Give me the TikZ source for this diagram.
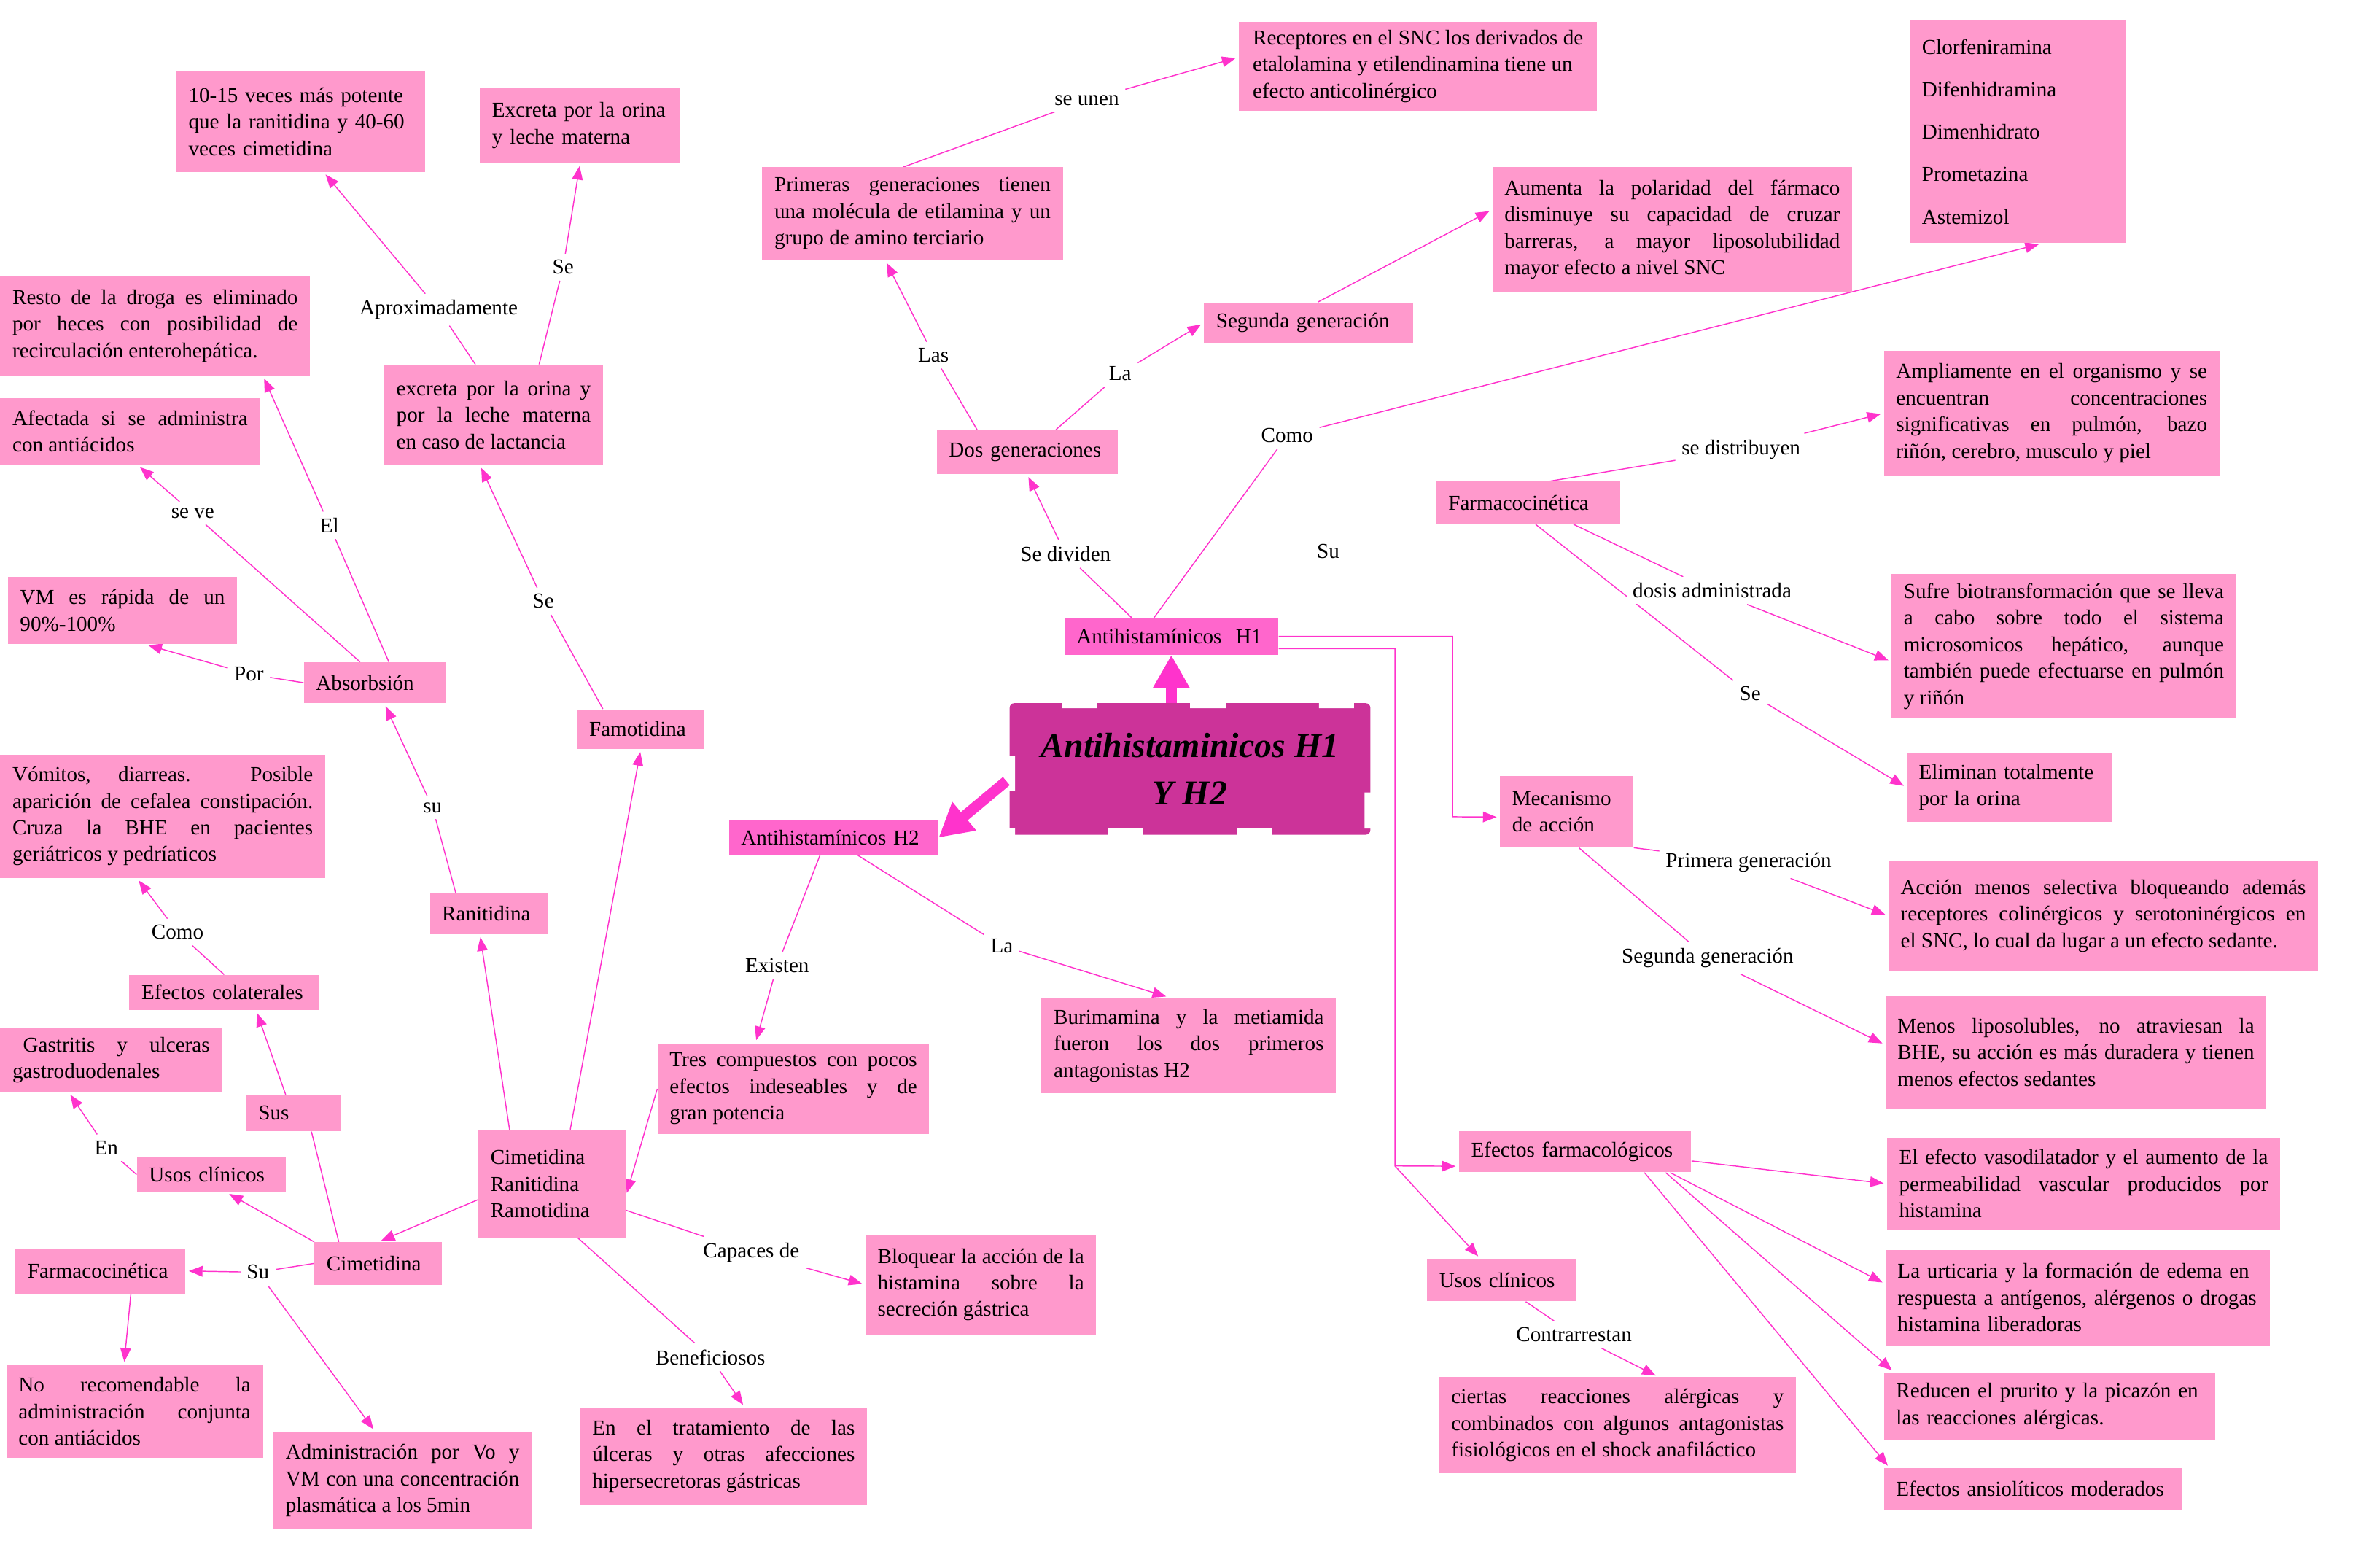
\documentclass[tikz,border=0pt]{standalone}
\usepackage{fontspec}
\setmainfont{Liberation Serif}
\usetikzlibrary{arrows.meta}
\pgfdeclarelayer{background}
\pgfsetlayers{background,main}

\begin{document}
\begin{tikzpicture}[x=1pt,y=-1pt,
  box/.style={fill=boxColor,anchor=north west,inner xsep=8pt,inner ysep=3pt,
    align=left,font=\fontsize{14}{17.5}\selectfont},
  jbox/.style={box,align=justify},
  headbox/.style={box,fill=headColor},
  lbl/.style={fill=white,inner sep=4pt,font=\fontsize{14}{17}\selectfont},
  cline/.style={draw=lineColor,line width=0.7pt},
  carrow/.style={cline,-{Triangle[length=9pt,width=7pt]},shorten >=2pt},
  bigarrow/.style={draw=lineColor,line width=7pt,-{Triangle[length=22pt,width=23pt]}}]
\definecolor{boxColor}{RGB}{255,153,204}
\definecolor{headColor}{RGB}{255,102,204}
\definecolor{mainColor}{RGB}{204,51,153}
\definecolor{lineColor}{RGB}{255,51,204}
\path[use as bounding box] (0,0) rectangle (1568,1015);

% centre
\node[fill=mainColor,rounded corners=3pt,anchor=north west,minimum width=237.6pt,minimum height=86.6pt,
  align=center,font=\fontsize{23}{31}\selectfont\bfseries\itshape] (central) at (665,463) {Antihistaminicos H1\\Y H2};
\fill[white] (699.5,461) rectangle (722.5,466.5) (784,461) rectangle (807.5,466.5) (869,461) rectangle (892,466.5)
  (663,545.8) rectangle (668.7,551) (730,545.8) rectangle (753,551) (815,545.8) rectangle (838,551)
  (663,498) rectangle (668.7,520.7) (899,522) rectangle (904,545.8);

\node[headbox,text width=125pt,minimum height=24pt] (antiHuno) at (701,407) {Antihistamínicos~~H1};
\node[headbox,text width=122pt,minimum height=23pt] (antiHdos) at (480,540) {Antihistamínicos H2};

% H2 side
\node[box,text width=148pt,minimum height=66pt] (potente) at (116,47) {10-15 veces más potente\\que la ranitidina y 40-60\\veces cimetidina};
\node[box,text width=116pt,minimum height=49pt] (excretaLeche) at (316,58) {Excreta por la orina\\y leche materna};
\node[jbox,text width=188pt,minimum height=65pt] (restoDroga) at (0,182) {Resto de la droga es eliminado\linebreak por heces con posibilidad de\linebreak recirculación enterohepática.};
\node[jbox,text width=155pt,minimum height=44pt] (afectada) at (0,262) {Afectada si se administra\linebreak con antiácidos};
\node[jbox,text width=128pt,minimum height=66pt] (excretaLact) at (253,240) {excreta por la orina y\linebreak por la leche materna\linebreak en caso de lactancia};
\node[jbox,text width=135pt,minimum height=44pt] (vmRapida) at (5,380) {VM es rápida de un\linebreak 90\%-100\%};
\node[box,text width=78pt,minimum height=27pt] (absorcion) at (200,436) {Absorbsión};
\node[box,text width=68pt,minimum height=26pt] (famotidina) at (380,467) {Famotidina};
\node[jbox,text width=198pt,minimum height=81pt] (vomitos) at (0,497) {Vómitos, diarreas. Posible\linebreak aparición de cefalea constipación.\linebreak Cruza la BHE en pacientes\linebreak geriátricos y pedríaticos};
\node[box,text width=62pt,minimum height=27pt] (ranitidina) at (283,588) {Ranitidina};
\node[box,text width=109pt,minimum height=23pt] (efColat) at (85,642) {Efectos colaterales};
\node[jbox,text width=130pt,minimum height=42pt] (gastritis) at (0,677) {\hspace*{7pt}Gastritis y ulceras\linebreak gastroduodenales};
\node[box,text width=46pt,minimum height=24pt] (susBox) at (162,721) {Sus};
\node[box,text width=82pt,minimum height=23pt] (usosCli) at (90,762) {Usos clínicos};
\node[box,text width=81pt,minimum height=71pt] (tresDrogas) at (315,744) {Cimetidina\\Ranitidina\\Ramotidina};
\node[box,text width=68pt,minimum height=28pt] (cimetidina) at (207,818) {Cimetidina};
\node[box,text width=96pt,minimum height=30pt] (farmaco) at (10,822) {Farmacocinética};
\node[jbox,text width=153pt,minimum height=61pt] (noRecom) at (4,899) {No recomendable la\linebreak administración conjunta\linebreak con antiácidos};
\node[jbox,text width=154pt,minimum height=64pt] (administ) at (180,943) {Administración por Vo y\linebreak VM con una concentración\linebreak plasmática a los 5min};
\node[jbox,text width=163pt,minimum height=60pt] (tresComp) at (433,687) {Tres compuestos con pocos\linebreak efectos indeseables y de\linebreak gran potencia};
\node[jbox,text width=136pt,minimum height=66pt] (bloquear) at (570,813) {Bloquear la acción de la\linebreak histamina sobre la\linebreak secreción gástrica};
\node[jbox,text width=173pt,minimum height=64pt] (tratamiento) at (382,927) {En el tratamiento de las\linebreak úlceras y otras afecciones\linebreak hipersecretoras gástricas};
\node[jbox,text width=178pt,minimum height=63pt] (burimamina) at (686,657) {Burimamina y la metiamida\linebreak fueron los dos primeros\linebreak antagonistas H2};

% H1 side
\node[jbox,text width=182pt,minimum height=61pt] (primeras) at (502,110) {Primeras generaciones tienen\linebreak una molécula de etilamina y un\linebreak grupo de amino terciario};
\node[box,minimum width=236pt,minimum height=59pt] (receptores) at (816,14) {Receptores en el SNC los derivados de\\etalolamina y etilendinamina tiene un\\efecto anticolinérgico};
\node[box,text width=103pt,minimum height=29pt] (dosGen) at (617,283) {Dos generaciones};
\node[box,text width=122pt,minimum height=27pt] (segGen) at (793,199) {Segunda generación};
\node[jbox,text width=221pt,minimum height=82pt] (aumenta) at (983,110) {Aumenta la polaridad del fármaco\linebreak disminuye su capacidad de cruzar\linebreak barreras, a mayor liposolubilidad\linebreak mayor efecto a nivel SNC};
\node[box,text width=126pt,minimum height=147pt] (listaH1) at (1258,13) {Clorfeniramina\\[10.5pt]Difenhidramina\\[10.5pt]Dimenhidrato\\[10.5pt]Prometazina\\[10.5pt]Astemizol};
\node[jbox,text width=205pt,minimum height=82pt] (ampliamente) at (1241,231) {Ampliamente en el organismo y se\linebreak encuentran concentraciones\linebreak significativas en pulmón, bazo\linebreak riñón, cerebro, musculo y piel};
\node[box,text width=105pt,minimum height=28pt] (farmacoDos) at (946,317) {Farmacocinética};
\node[jbox,text width=211pt,minimum height=95pt] (sufre) at (1246,378) {Sufre biotransformación que se lleva\linebreak a cabo sobre todo el sistema\linebreak microsomicos hepático, aunque\linebreak también puede efectuarse en pulmón\linebreak y riñón};
\node[box,text width=119pt,minimum height=45pt] (eliminan) at (1256,496) {Eliminan totalmente\\por la orina};
\node[box,text width=72pt,minimum height=47pt] (mecanismo) at (988,511) {Mecanismo\\de acción};
\node[jbox,text width=267pt,minimum height=72pt] (accion) at (1244,567) {Acción menos selectiva bloqueando además\linebreak receptores colinérgicos y serotoninérgicos en\linebreak el SNC, lo cual da lugar a un efecto sedante.};
\node[jbox,text width=235pt,minimum height=74pt] (menosLipo) at (1242,656) {Menos liposolubles, no atraviesan la\linebreak BHE, su acción es más duradera y tienen\linebreak menos efectos sedantes};
\node[box,text width=137pt,minimum height=27pt] (efFarm) at (961,745) {Efectos farmacológicos};
\node[jbox,text width=243pt,minimum height=61pt] (vasodil) at (1243,749) {El efecto vasodilatador y el aumento de la\linebreak permeabilidad vascular producidos por\linebreak histamina};
\node[box,text width=82pt,minimum height=28pt] (usosDos) at (940,829) {Usos clínicos};
\node[box,text width=237pt,minimum height=63pt] (urticaria) at (1242,823) {La urticaria y la formación de edema en\\respuesta a antígenos, alérgenos o drogas\\histamina liberadoras};
\node[box,text width=202pt,minimum height=44pt] (reducen) at (1241,904) {Reducen el prurito y la picazón en\\las reacciones alérgicas.};
\node[jbox,text width=219pt,minimum height=63pt] (ciertas) at (948,907) {ciertas reacciones alérgicas y\linebreak combinados con algunos antagonistas\linebreak fisiológicos en el shock anafiláctico};
\node[box,text width=180pt,minimum height=27pt] (ansiol) at (1241,967) {Efectos ansiolíticos moderados};

% linking words
\node[lbl] (lSeUnen) at (716,66) {se unen};
\node[lbl] (lLas) at (615,234) {Las};
\node[lbl] (lLa) at (738,246) {La};
\node[lbl] (lComo) at (848,287) {Como};
\node[lbl] (lSeDividen) at (702,365) {Se dividen};
\node[lbl] (lSu) at (875,363) {Su};
\node[lbl] (lSeDistr) at (1147,296) {se distribuyen};
\node[lbl] (lDosis) at (1128,389) {dosis administrada};
\node[lbl] (lSeElim) at (1153,457) {Se};
\node[lbl] (lPrimera) at (1152,568) {Primera generación};
\node[lbl] (lSegunda) at (1125,631) {Segunda generación};
\node[lbl] (lContra) at (1037,879) {Contrarrestan};
\node[lbl] (lAprox) at (289,204) {Aproximadamente};
\node[lbl] (lSeExcreta) at (371,176) {Se};
\node[lbl] (lSeVe) at (127,338) {se ve};
\node[lbl] (lEl) at (217,346) {El};
\node[lbl] (lSeFamo) at (358,396) {Se};
\node[lbl] (lPor) at (164,444) {Por};
\node[lbl] (lSuRanit) at (285,532) {su};
\node[lbl] (lComoEfec) at (117,614) {Como};
\node[lbl] (lExisten) at (512,636) {Existen};
\node[lbl] (lLaBuri) at (660,623) {La};
\node[lbl] (lEn) at (70,756) {En};
\node[lbl] (lSuCimet) at (170,838) {Su};
\node[lbl] (lCapaces) at (495,825) {Capaces de};
\node[lbl] (lBenef) at (468,894) {Beneficiosos};

\coordinate (bendA) at (957,538);
\coordinate (fork) at (919,768);

\begin{pgfonlayer}{background}
\draw[cline] ([xshift=-12pt]excretaLact.north) -- (lAprox);
\draw[carrow] (lAprox) -- ([xshift=15pt]potente.south);
\draw[cline] ([xshift=30pt]excretaLact.north) -- (lSeExcreta);
\draw[carrow] (lSeExcreta) -- (excretaLeche.south);
\draw[cline] ([xshift=-25pt]famotidina.north) -- (lSeFamo);
\draw[carrow] (lSeFamo) -- ([xshift=-9pt]excretaLact.south);
\draw[cline] ([xshift=-10pt]absorcion.north) -- (lSeVe);
\draw[carrow] (lSeVe) -- ([xshift=5pt]afectada.south);
\draw[cline] ([xshift=9pt]absorcion.north) -- (lEl);
\draw[carrow] (lEl) -- ([xshift=71pt]restoDroga.south);
\draw[cline] (absorcion.west) -- (lPor);
\draw[carrow] (lPor) -- ([xshift=15pt]vmRapida.south);
\draw[cline] ([xshift=-22pt]ranitidina.north) -- (lSuRanit);
\draw[carrow] (lSuRanit) -- ([xshift=6pt]absorcion.south);
\draw[carrow] ([xshift=-28pt]tresDrogas.north) -- ([xshift=-6pt]ranitidina.south);
\draw[carrow] ([xshift=12pt]tresDrogas.north) -- (famotidina.south);
\draw[carrow] ([yshift=-10.5pt]tresDrogas.west) -- (cimetidina.north);
\draw[cline] ([xshift=-26pt]cimetidina.north) -- ([xshift=12pt]susBox.south);
\draw[carrow] ([xshift=-5pt]susBox.north) -- ([xshift=21pt]efColat.south);
\draw[cline] (efColat.north) -- (lComoEfec);
\draw[carrow] (lComoEfec) -- ([xshift=-17pt]vomitos.south);
\draw[carrow] (cimetidina.north west) -- ([xshift=10pt]usosCli.south);
\draw[cline] (usosCli.west) -- (lEn);
\draw[carrow] (lEn) -- ([xshift=-28pt]gastritis.south);
\draw[cline] (cimetidina.west) -- (lSuCimet);
\draw[carrow] (lSuCimet) -- (farmaco.east);
\draw[carrow] (lSuCimet) -- ([xshift=-18pt]administ.north);
\draw[carrow] ([xshift=20pt]farmaco.south) -- ([xshift=-7pt]noRecom.north);
\draw[carrow] (tresComp.west) -- ([yshift=-8pt]tresDrogas.east);
\draw[cline] ([yshift=-17.5pt]tresDrogas.east) -- (lCapaces);
\draw[carrow] (lCapaces) -- (bloquear.west);
\draw[cline] ([xshift=17pt]tresDrogas.south) -- (lBenef);
\draw[carrow] (lBenef) -- ([xshift=14pt]tratamiento.north);
\draw[cline] ([xshift=-9pt]antiHdos.south) -- (lExisten);
\draw[carrow] (lExisten) -- ([xshift=-25pt]tresComp.north);
\draw[cline] ([xshift=16pt]antiHdos.south) -- (lLaBuri);
\draw[carrow] (lLaBuri) -- ([xshift=-13pt]burimamina.north);
\draw[cline] ([xshift=-26pt]antiHuno.north) -- (lSeDividen);
\draw[carrow] (lSeDividen) -- (dosGen.south);
\draw[cline] ([xshift=-33pt]dosGen.north) -- (lLas);
\draw[carrow] (lLas) -- ([xshift=-18pt]primeras.south);
\draw[cline] ([xshift=19pt]dosGen.north) -- (lLa);
\draw[carrow] (lLa) -- (segGen.west);
\draw[cline] ([xshift=-6pt]primeras.north) -- (lSeUnen);
\draw[carrow] (lSeUnen) -- ([yshift=6pt]receptores.west);
\draw[carrow] ([xshift=6pt]segGen.north) -- ([yshift=13pt]aumenta.west);
\draw[cline] ([xshift=-11.5pt]antiHuno.north) -- (lComo);
\draw[carrow] (lComo) -- ([xshift=16pt]listaH1.south);
\draw[cline] ([xshift=14pt]farmacoDos.north) -- (lSeDistr);
\draw[carrow] (lSeDistr) -- (ampliamente.west);
\draw[cline] ([xshift=30pt]farmacoDos.south) -- (lDosis);
\draw[carrow] (lDosis) -- ([yshift=-10pt]sufre.west);
\draw[cline] ([xshift=5pt]farmacoDos.south) -- (lSeElim);
\draw[carrow] (lSeElim) -- (eliminan.west);
\draw[carrow] (antiHuno.east) -| (bendA) -- ([yshift=-3.5pt]mecanismo.west);
\draw[carrow] ([yshift=-8pt]antiHuno.east) -| (fork) -- ([yshift=-9.5pt]efFarm.west);
\draw[carrow] (fork) -- ([xshift=-14pt]usosDos.north);
\draw[cline] (mecanismo.south east) -- (lPrimera);
\draw[carrow] (lPrimera) -- (accion.west);
\draw[cline] ([xshift=8pt]mecanismo.south) -- (lSegunda);
\draw[carrow] (lSegunda) -- ([yshift=5pt]menosLipo.west);
\draw[carrow] ([yshift=-6pt]efFarm.east) -- (vasodil.west);
\draw[carrow] ([xshift=-14pt]efFarm.south east) -- ([yshift=9pt]urticaria.west);
\draw[carrow] ([xshift=-17pt]efFarm.south east) -- ([xshift=7pt]reducen.north west);
\draw[carrow] ([xshift=-31pt]efFarm.south east) -- ([xshift=4pt]ansiol.north west);
\draw[cline] ([xshift=16pt]usosDos.south) -- (lContra);
\draw[carrow] (lContra) -- ([xshift=27pt]ciertas.north);
\end{pgfonlayer}

\draw[bigarrow] (central.north -| antiHuno.south) -- (antiHuno.south);
\draw[bigarrow] ([shift={(-2,8)}]central.west) -- (antiHdos.east);
\end{tikzpicture}
\end{document}
